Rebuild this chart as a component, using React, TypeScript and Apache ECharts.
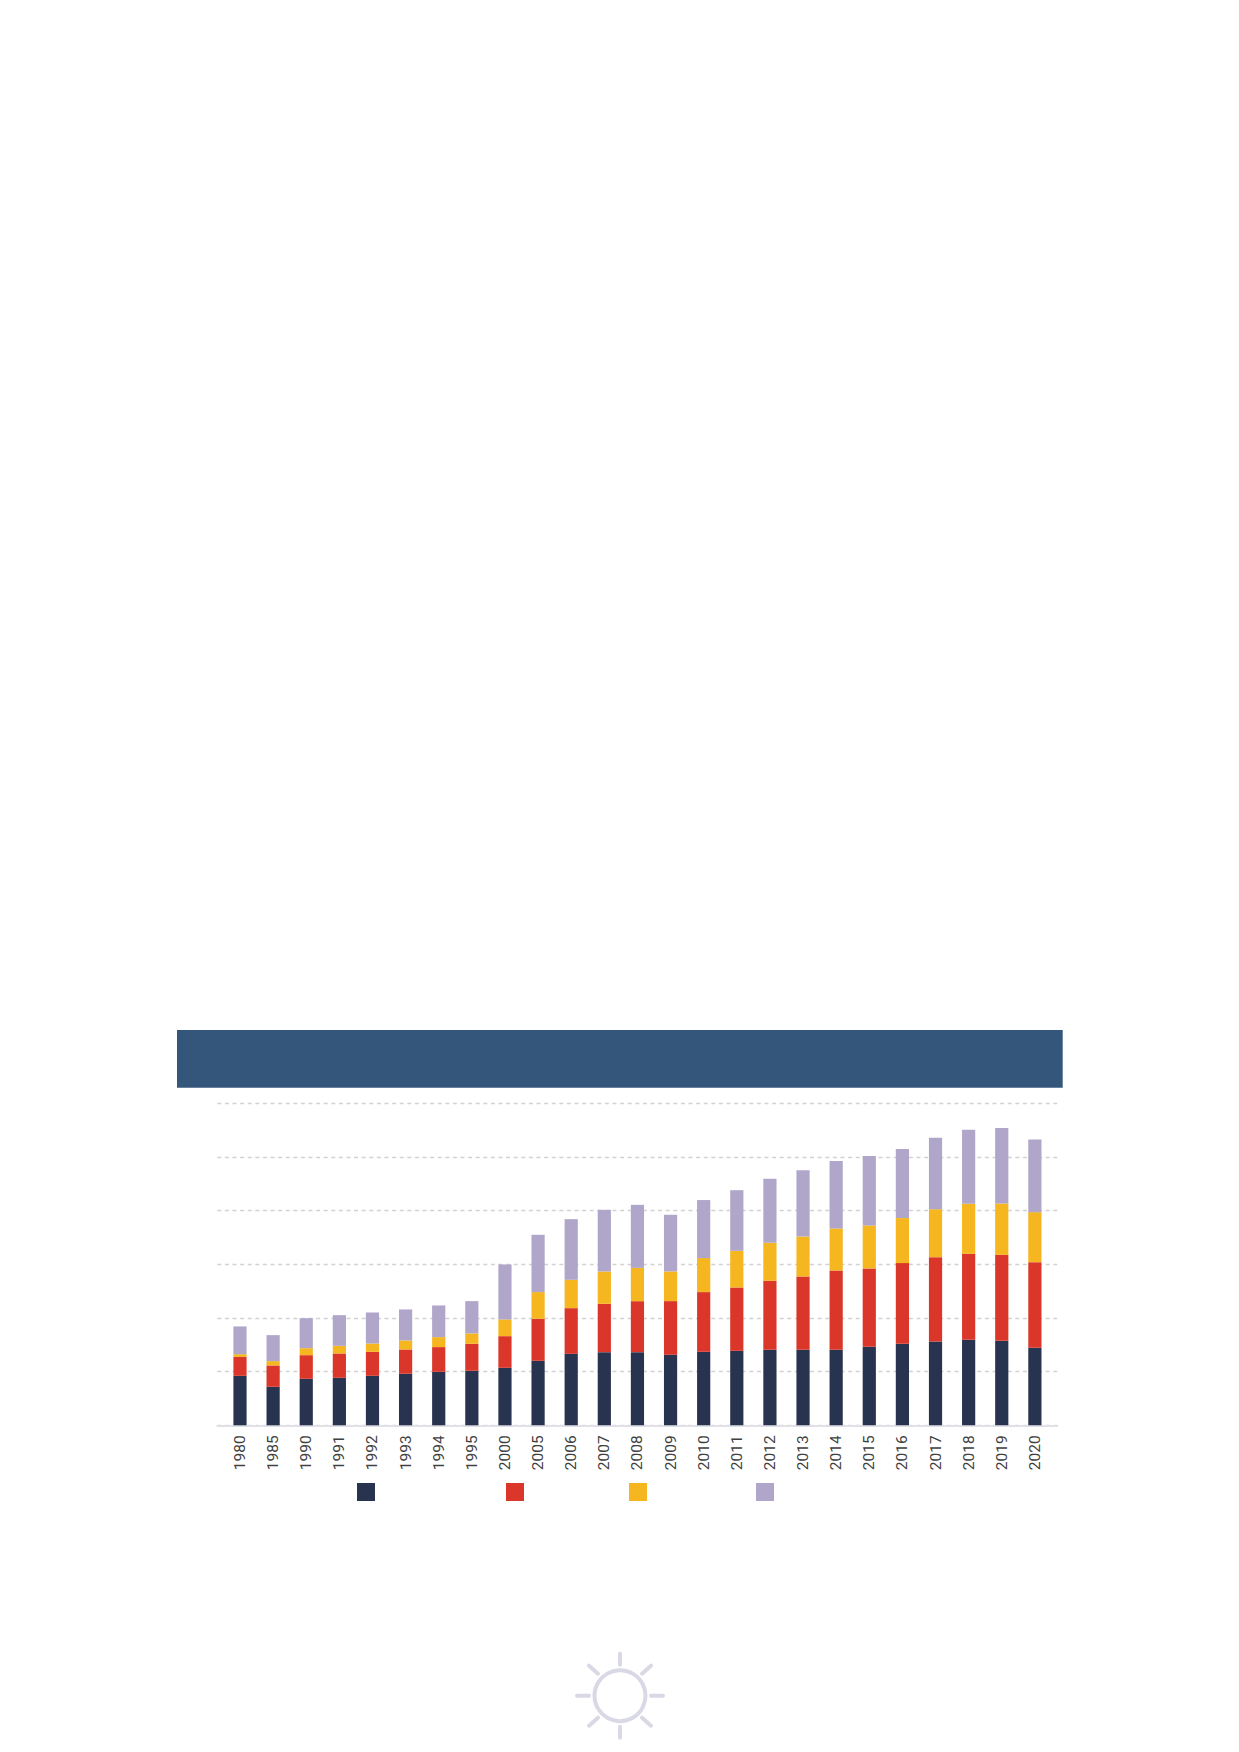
import React, { useEffect, useRef } from "react";
import * as echarts from "echarts";

const years = ["1980","1985","1990","1991","1992","1993","1994","1995","2000","2005","2006","2007","2008","2009","2010","2011","2012","2013","2014","2015","2016","2017","2018","2019","2020"];
const seriesNames = ["Series 1", "Series 2", "Series 3", "Series 4"];
const seriesColors = ["#28334f", "#da372a", "#f5b61f", "#afa6c9"];
const darkValues = [9.22,7.17,8.66,8.85,9.22,9.6,9.97,10.16,10.71,12.02,13.32,13.63,13.63,13.14,13.7,13.88,14.07,14.07,14.07,14.63,15.19,15.62,15.93,15.75,14.44];
const redValues = [3.54,3.98,4.41,4.53,4.47,4.53,4.6,5.03,5.9,7.83,8.51,9.01,9.5,10.0,11.12,11.8,12.86,13.66,14.78,14.6,15.03,15.71,16.02,16.02,15.96];
const yellowValues = [0.5,0.81,1.3,1.43,1.55,1.68,1.86,1.93,3.11,4.97,5.28,6.02,6.21,5.53,6.34,6.83,7.08,7.45,7.83,8.01,8.39,8.94,9.32,9.57,9.32];
const purpleValues = [5.16,4.84,5.59,5.71,5.78,5.78,5.9,6.02,10.25,10.68,11.3,11.49,11.74,10.56,10.81,11.3,11.93,12.36,12.55,12.92,12.86,13.29,13.79,14.04,13.54];
const allValues = [darkValues, redValues, yellowValues, purpleValues];
const legendLefts = [357, 506, 629, 756];

const CX = 620;
const CY = 1695.7;
const sunColor = "#d9d9e5";
const rays: number[][] = [
  [0, -42, 0, -31], [0, 31, 0, 42], [-43, 0, -31, 0], [31, 0, 43, 0],
  [-31, -30, -22, -22], [31, -30, 22, -22], [-31, 30, -22, 22], [31, 30, 22, 22],
];

export default function App() {
  const ref = useRef<HTMLDivElement>(null);
  useEffect(() => {
    const chart = echarts.init(ref.current!, null, { renderer: "svg" });
    chart.setOption({
      animation: false,
      backgroundColor: "#ffffff",
      grid: [
        { left: 217.3, top: 1103.3, width: 840, height: 322 },
        { left: 223.44, top: 1103.3, width: 828, height: 322 },
      ],
      xAxis: [
        {
          gridIndex: 0, type: "value", min: 0, max: 1,
          axisLabel: { show: false }, axisTick: { show: false }, splitLine: { show: false },
          axisLine: { show: true, lineStyle: { color: "#e0e0e6", width: 2 } },
        },
        {
          gridIndex: 1, type: "category", data: years,
          axisLine: { show: false }, axisTick: { show: false },
          axisLabel: {
            rotate: 90, interval: 0, margin: 10, fontSize: 15.5, fontWeight: 400,
            fontFamily: "Roboto, sans-serif", color: "#404040",
          },
        },
      ],
      yAxis: [
        {
          gridIndex: 0, type: "value", min: 0, max: 60, interval: 10,
          axisLine: { show: false }, axisTick: { show: false }, axisLabel: { show: false },
          splitLine: { show: true, lineStyle: { color: "#d2d2d2", width: 1.3, type: [4, 3.6] } },
        },
        { gridIndex: 1, type: "value", min: 0, max: 60, show: false, splitLine: { show: false } },
      ],
      legend: seriesNames.map((n, i) => ({
        data: [n], left: legendLefts[i], top: 1483, padding: 0,
        itemWidth: 18, itemHeight: 18, icon: "rect", selectedMode: false,
        formatter: () => "",
      })),
      series: seriesNames.map((n, i) => ({
        name: n, type: "bar", stack: "total", xAxisIndex: 1, yAxisIndex: 1,
        barWidth: 13.2, data: allValues[i], itemStyle: { color: seriesColors[i] },
      })),
      graphic: [
        { type: "rect", shape: { x: 177, y: 1030, width: 885.7, height: 57.7 }, style: { fill: "#34567b" } },
        {
          type: "circle", shape: { cx: CX, cy: CY, r: 25.5 },
          style: { fill: "none", stroke: sunColor, lineWidth: 4 },
        },
        ...rays.map((r) => ({
          type: "line",
          shape: { x1: CX + r[0], y1: CY + r[1], x2: CX + r[2], y2: CY + r[3] },
          style: { stroke: sunColor, lineWidth: 4, lineCap: "round" },
        })),
      ],
    });
    return () => chart.dispose();
  }, []);
  return <div ref={ref} style={{ position: "absolute", left: 0, top: 0, width: 1239, height: 1752 }} />;
}
